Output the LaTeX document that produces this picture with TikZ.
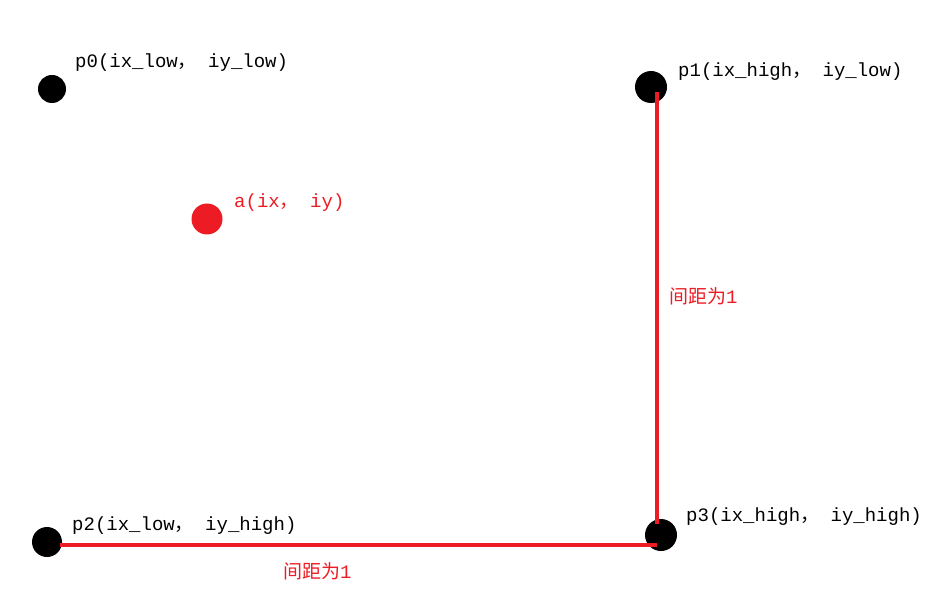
\documentclass[tikz,border=0pt]{standalone}
\usepackage{fontspec}
\setmonofont{Liberation Mono}
\newfontfamily\cjk{Noto Sans CJK SC}
\usetikzlibrary{positioning}
\definecolor{ptred}{RGB}{237,28,36}
\newcommand{\fwc}{{\cjk ，}}
\tikzset{%
	pt/.style={circle, fill=black, inner sep=0pt, minimum size=28pt},
	apt/.style={pt, fill=ptred, minimum size=31pt},
	lab/.style={anchor=west, inner sep=0pt, font=\ttfamily\fontsize{19}{19}\selectfont},
	gaplab/.style={lab, text=ptred},
	edge/.style={draw=ptred, line width=4pt}
}

\begin{document}
\begin{tikzpicture}[x=1pt, y=-1pt]
	\useasboundingbox (0,0) rectangle (952,612);

	\node[pt]  (p0) at (52,89)   {};
	\node[pt, minimum size=32pt] (p1) at (651,87) {};
	\node[apt] (a)  at (207,219) {};
	\node[pt, minimum size=30pt] (p2) at (47,542) {};
	\node[pt, minimum size=32pt] (p3) at (661,535) {};

	\node[lab] (l0) at (75,63)  {p0(ix\_low\fwc{} iy\_low)};
	\node[lab] (l1) at (678,72) {p1(ix\_high\fwc{} iy\_low)};
	\node[gaplab] (la) at (234,203) {a(ix\fwc{} iy)};
	\node[lab] (l2) at (72,526)  {p2(ix\_low\fwc{} iy\_high)};
	\node[lab] (l3) at (686,517) {p3(ix\_high\fwc{} iy\_high)};

	% the two unit spacings
	\coordinate (v1) at (657,92);
	\coordinate (v2) at (657,524);
	\coordinate (h1) at (60,545);
	\coordinate (h2) at (657,545);
	\draw[edge] (v1) -- (v2);
	\draw[edge] (h1) -- (h2);

	\node[gaplab] (gv) at (669,296) {{\cjk 间距为}1};
	\node[gaplab] (gh) at (283,571) {{\cjk 间距为}1};
\end{tikzpicture}
\end{document}
